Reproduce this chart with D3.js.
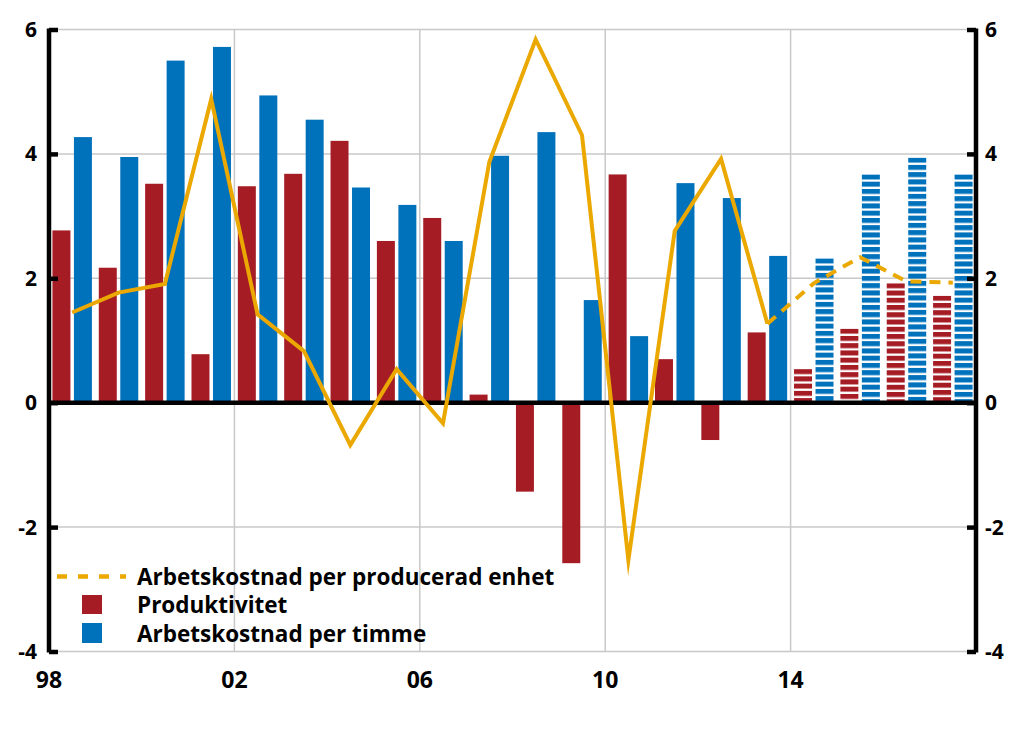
<!DOCTYPE html>
<html>
<head>
<meta charset="utf-8">
<script src="https://cdn.jsdelivr.net/npm/d3@7"></script>
<style>
  html, body { margin: 0; padding: 0; background: #fff; }
  svg { display: block; }
  text { font-family: "Open Sans", "Noto Sans", sans-serif; font-weight: 700; fill: #000; }
</style>
</head>
<body>
<svg id="chart" width="1024" height="739"></svg>
<script>
// ---- data ----
const years = [1998,1999,2000,2001,2002,2003,2004,2005,2006,2007,2008,2009,2010,2011,2012,2013,2014,2015,2016,2017];
const produktivitet = [2.77,2.17,3.52,0.78,3.48,3.68,4.21,2.60,2.97,0.13,-1.43,-2.58,3.67,0.70,-0.60,1.13,0.54,1.19,1.92,1.72];
const kostnadTimme = [4.27,3.95,5.50,5.72,4.94,4.55,3.46,3.18,2.60,3.97,4.35,1.65,1.07,3.53,3.29,2.36,2.32,3.67,3.94,3.67];
const kostnadEnhet = [1.45,1.77,1.91,4.88,1.42,0.83,-0.68,0.54,-0.33,3.87,5.84,4.30,-2.53,2.76,3.92,1.27,1.92,2.34,1.95,1.93];
const forecastFrom = 2014; // years from here are forecasts (hatched / dashed)
const xTickYears = [1998,2002,2006,2010,2014];
const xGridYears = [2002,2006,2010,2014];
const yTicks = [-4,-2,0,2,4,6];
const legendLabels = ["Arbetskostnad per producerad enhet","Produktivitet","Arbetskostnad per timme"];

const colors = { prod: "#A51C24", hour: "#0071BB", line: "#EAA800", grid: "#c8c8c8" };

// ---- layout ----
const svg = d3.select("#chart");
const L = 49, R = 976, T = 29.5, B = 651.5;

const x = d3.scaleBand().domain(years).range([L, R]).paddingInner(0).paddingOuter(0);
const xYear = d3.scaleLinear().domain([1998, 2018]).range([L, R]);
const sub = d3.scaleBand().domain(["prod","hour"]).range([0, x.bandwidth()]).paddingInner(0.163).paddingOuter(0.16);
const y = d3.scaleLinear().domain([-4, 6]).range([B, T]);

// gridlines
const grid = svg.append("g");
grid.selectAll("line.h").data(yTicks.filter(d => d !== 0)).join("line")
  .attr("x1", L).attr("x2", R).attr("y1", d => y(d)).attr("y2", d => y(d))
  .attr("stroke", colors.grid).attr("stroke-width", 1.5);
grid.selectAll("line.v").data(xGridYears).join("line")
  .attr("x1", d => xYear(d)).attr("x2", d => xYear(d)).attr("y1", T).attr("y2", B)
  .attr("stroke", colors.grid).attr("stroke-width", 1.5);

// hatch patterns for forecast bars (horizontal stripes starting at bar top)
const defs = svg.append("defs");
const period = 7.25, stripe = 5;
function barTop(v) { return Math.min(y(v), y(0)); }
function addPattern(id, color, top) {
  const p = defs.append("pattern").attr("id", id).attr("patternUnits", "userSpaceOnUse")
    .attr("x", 0).attr("y", top).attr("width", 10).attr("height", period);
  p.append("rect").attr("x", 0).attr("y", 0).attr("width", 10).attr("height", stripe).attr("fill", color);
}

const barData = [];
years.forEach((yr, i) => {
  barData.push({ year: yr, key: "prod", value: produktivitet[i], color: colors.prod });
  barData.push({ year: yr, key: "hour", value: kostnadTimme[i], color: colors.hour });
});
barData.forEach((d, i) => {
  if (d.year >= forecastFrom) {
    d.pid = "hatch" + i;
    addPattern(d.pid, d.color, barTop(d.value));
  }
});

svg.append("g").selectAll("rect").data(barData).join("rect")
  .attr("x", d => x(d.year) + sub(d.key))
  .attr("width", sub.bandwidth())
  .attr("y", d => barTop(d.value))
  .attr("height", d => Math.abs(y(d.value) - y(0)))
  .attr("fill", d => d.pid ? `url(#${d.pid})` : d.color);

// zero line
svg.append("line").attr("x1", L).attr("x2", R).attr("y1", y(0)).attr("y2", y(0))
  .attr("stroke", "#000").attr("stroke-width", 4.5);

// unit labour cost line
const pts = years.map((yr, i) => ({ year: yr, v: kostnadEnhet[i] }));
const lineGen = d3.line().x(d => x(d.year) + x.bandwidth() / 2).y(d => y(d.v));
svg.append("path").datum(pts.filter(d => d.year <= forecastFrom - 1))
  .attr("d", lineGen).attr("fill", "none").attr("stroke", colors.line)
  .attr("stroke-width", 4).attr("stroke-linejoin", "miter").attr("stroke-miterlimit", 20);
svg.append("path").datum(pts.filter(d => d.year >= forecastFrom - 1))
  .attr("d", lineGen).attr("fill", "none").attr("stroke", colors.line)
  .attr("stroke-width", 4).attr("stroke-dasharray", "11,8").attr("stroke-miterlimit", 20);

// axes
const axL = svg.append("g").attr("transform", `translate(${L},0)`)
  .call(d3.axisRight(y).tickValues(yTicks).tickSize(9).tickFormat(""));
const axR = svg.append("g").attr("transform", `translate(${R},0)`)
  .call(d3.axisLeft(y).tickValues(yTicks).tickSize(9).tickFormat(""));
[axL, axR].forEach(a => {
  a.select(".domain").attr("stroke", "#000").attr("stroke-width", 4.5);
  a.selectAll(".tick line").attr("stroke", "#000").attr("stroke-width", 4.5);
});
axL.select(".domain").attr("d", `M0,${T - 1}V${B + 1}`);
axR.select(".domain").attr("d", `M0,${T - 1}V${B + 1}`);

// y tick labels
const fmtY = d => d < 0 ? "-" + Math.abs(d) : String(d);
svg.append("g").selectAll("text").data(yTicks).join("text")
  .attr("x", 37).attr("y", d => y(d) + 7.4).attr("text-anchor", "end")
  .attr("font-size", 21).text(fmtY);
svg.append("g").selectAll("text").data(yTicks).join("text")
  .attr("x", 985).attr("y", d => y(d) + 7.4).attr("text-anchor", "start")
  .attr("font-size", 21).text(fmtY);

// x tick labels
svg.append("g").selectAll("text").data(xTickYears).join("text")
  .attr("x", d => xYear(d)).attr("y", 688).attr("text-anchor", "middle")
  .attr("font-size", 23).text(d => String(d).slice(2));

// legend
const lg = svg.append("g");
lg.append("line").attr("x1", 57).attr("x2", 126).attr("y1", 576.5).attr("y2", 576.5)
  .attr("stroke", colors.line).attr("stroke-width", 4.5).attr("stroke-dasharray", "10,11");
lg.append("rect").attr("x", 82).attr("y", 595).attr("width", 20).attr("height", 19).attr("fill", colors.prod);
lg.append("rect").attr("x", 82).attr("y", 623).attr("width", 20).attr("height", 20).attr("fill", colors.hour);
lg.selectAll("text").data(legendLabels).join("text")
  .attr("x", 137).attr("y", (d, i) => 585 + i * 28.3)
  .attr("font-size", 22.5).text(d => d);
</script>
</body>
</html>
